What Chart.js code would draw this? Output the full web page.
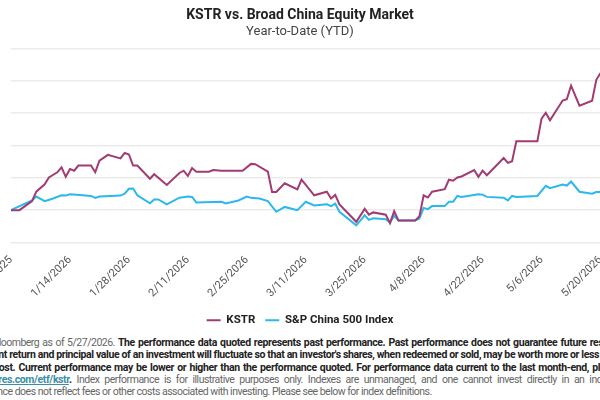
<!DOCTYPE html>
<html lang="en">
<head>
    <meta charset="UTF-8">
    <title>KSTR vs. Broad China Equity Market</title>
    <script src="https://cdn.jsdelivr.net/npm/chart.js"></script>
    <style>
    html, body {
        margin: 0;
        padding: 0;
        background: #fff;
    }
    body {
        width: 600px;
        height: 400px;
        overflow: hidden;
        position: relative;
        font-family: Roboto, "Noto Sans", sans-serif;
    }
    #chartBox {
        position: absolute;
        left: -40px;
        top: 0;
        width: 680px;
        height: 336px;
    }
    #note {
        position: absolute;
        left: -42px;
        top: 337px;
        width: 684px;
        font-size: 10.5px;
        line-height: 12.3px;
        color: #666;
        letter-spacing: -0.5px;
        white-space: nowrap;
    }
    #note div {
        text-align: justify;
        text-align-last: justify;
    }
    #note div.last {
        text-align-last: left;
    }
    #note b {
        color: #222;
        letter-spacing: -0.38px;
    }
    #note a {
        color: #3b8ea5;
        font-weight: bold;
        letter-spacing: -0.38px;
    }
    </style>
</head>
<body>
    <div id="chartBox">
    <canvas id="kstrChart" width="680" height="336"></canvas>
    </div>

    <div id="note">
    <div>Source: Bloomberg as of 5/27/2026. <b>The performance data quoted represents past performance. Past performance does not guarantee future results. The</b></div>
    <div><b>investment return and principal value of an investment will fluctuate so that an investor's shares, when redeemed or sold, may be worth more or less than their</b></div>
    <div><b>original cost. Current performance may be lower or higher than the performance quoted. For performance data current to the last month-end, please visit</b></div>
    <div><a href="#">kraneshares.com/etf/kstr</a><b>.</b> Index performance is for illustrative purposes only. Indexes are unmanaged, and one cannot invest directly in an index. Index</div>
    <div class="last">performance does not reflect fees or other costs associated with investing. Please see below for index definitions.</div>
    </div>

    <script>
    // days counted from 12/31/2025, values are YTD return in %
    const kstrDays = [0, 2, 5, 6, 8, 9, 11, 12, 13, 14, 15, 16, 19, 20, 21, 23, 26, 27, 28, 29,
        30, 33, 34, 37, 40, 41, 42, 43, 44, 47, 48, 50, 55, 57, 58, 61, 62, 63, 65, 68,
        69, 72, 75, 76, 77, 78, 82, 84, 85, 86, 89, 90, 91, 92, 96, 97, 98, 99, 100, 103,
        104, 105, 106, 107, 110, 111, 112, 113, 117, 118, 119, 120, 125, 126, 127, 128, 131, 132, 133, 135,
        138, 139, 140];
    const kstrValues = [0, 0, 2.8, 5.7, 8.0, 10.1, 11.7, 13.2, 10.3, 12.7, 12.2, 13.8, 13.8, 11.7, 15.3, 17.1, 16.0, 17.7, 17.2, 13.8,
        13.8, 9.7, 11.1, 7.8, 11.5, 12.2, 10.6, 13.0, 11.9, 11.9, 12.4, 12.2, 12.2, 14.3, 14.2, 11.9, 5.6, 5.6, 8.3, 6.4,
        9.4, 4.6, 5.7, 3.6, 4.7, 1.8, -3.6, 0.4, -1.4, -0.7, -1.4, -4.0, -0.3, -3.2, -3.2, -1.9, 4.6, 3.9, 5.7, 6.5,
        9.4, 9.1, 10.1, 10.4, 12.4, 10.3, 12.2, 10.8, 16.1, 14.6, 15.1, 21.3, 21.3, 28.3, 30.1, 27.8, 33.9, 34.3, 38.5, 32.3,
        33.8, 40.3, 42.4];

    const spDays = [0, 5, 6, 8, 10, 12, 13, 14, 17, 19, 20, 21, 26, 27, 28, 29, 30, 33, 34, 35,
        37, 40, 42, 43, 44, 50, 51, 54, 56, 57, 59, 61, 63, 65, 68, 70, 72, 75, 76, 77,
        78, 82, 84, 85, 86, 89, 90, 91, 92, 96, 97, 98, 99, 100, 103, 104, 105, 106, 107, 111,
        112, 113, 117, 118, 119, 120, 125, 127, 128, 131, 132, 133, 135, 138, 139, 140];
    const spValues = [0, 3.0, 4.2, 2.8, 3.6, 4.6, 4.5, 4.9, 4.6, 4.4, 3.75, 4.2, 4.5, 5.1, 6.6, 6.7, 4.6, 2.1, 3.3, 3.3,
        1.8, 3.85, 4.2, 4.1, 2.4, 2.6, 2.1, 3.0, 4.2, 3.8, 3.6, 2.8, -0.5, 1.0, 0, 2.6, 1.45, 1.8, 1.25, 2.0,
        -0.5, -4.7, -1.6, -3.0, -2.5, -2.8, -3.85, -1.7, -3.2, -3.2, -2.6, 0.7, 0.3, 1.25, 1.25, 2.6, 2.6, 4.4, 4.1, 4.9,
        4.8, 4.1, 3.85, 3.0, 4.4, 4.1, 4.4, 7.5, 6.8, 7.9, 7.6, 8.85, 5.7, 5.1, 5.6, 5.6];

    const seriesNames = ['KSTR', 'S&P China 500 Index'];
    const lastDay = 147;   // 5/27/2026
    const tickStep = 14;   // every second Wednesday

    function dayLabel(v) {
        const d = new Date(2025, 11, 31 + v);
        return (d.getMonth() + 1) + '/' + d.getDate() + '/' + d.getFullYear();
    }

    const toPoints = (days, vals) => days.map((d, i) => ({ x: d, y: vals[i] }));

    const ctx = document.getElementById('kstrChart').getContext('2d');
    new Chart(ctx, {
        type: 'line',
        data: {
        datasets: [
            {
            label: seriesNames[0],
            data: toPoints(kstrDays, kstrValues),
            borderColor: '#a23b72',
            backgroundColor: '#a23b72',
            borderWidth: 2,
            pointRadius: 0,
            tension: 0
            },
            {
            label: seriesNames[1],
            data: toPoints(spDays, spValues),
            borderColor: '#2bb8ec',
            backgroundColor: '#2bb8ec',
            borderWidth: 2,
            pointRadius: 0,
            tension: 0
            }
        ]
        },
        options: {
        responsive: false,
        animation: false,
        layout: { padding: { left: 10, right: 10, top: 0, bottom: 0 } },
        scales: {
            x: {
            type: 'linear',
            min: 0,
            max: lastDay,
            grid: { display: false },
            border: { display: false },
            ticks: {
                stepSize: tickStep,
                includeBounds: false,
                autoSkip: false,
                maxRotation: 45,
                minRotation: 45,
                color: '#555',
                font: { family: 'Roboto', size: 11 },
                callback: v => dayLabel(v)
            },
            afterFit: s => { s.height = 62; }
            },
            y: {
            min: -10,
            max: 50,
            ticks: { display: false, stepSize: 10 },
            grid: { color: '#ebebeb', lineWidth: 1.5, drawTicks: false },
            border: { display: false },
            afterFit: s => { s.width = 41; }
            }
        },
        plugins: {
            title: {
            display: true,
            text: 'KSTR vs. Broad China Equity Market',
            color: '#222',
            font: { family: 'Roboto', size: 14, weight: 'bold' },
            padding: { top: 7, bottom: 0 }
            },
            subtitle: {
            display: true,
            text: 'Year-to-Date (YTD)',
            color: '#444',
            font: { family: 'Roboto', size: 13 },
            padding: { top: 0, bottom: 9 }
            },
            legend: {
            position: 'bottom',
            labels: {
                boxWidth: 14,
                boxHeight: 2,
                padding: 10,
                color: '#222',
                font: { family: 'Roboto', size: 11.5, weight: 'bold' },
                generateLabels: chart => Chart.defaults.plugins.legend.labels.generateLabels(chart)
                .map(item => Object.assign(item, { lineWidth: 0 }))
            }
            },
            tooltip: { enabled: false }
        }
        }
    });
    </script>
</body>
</html>
